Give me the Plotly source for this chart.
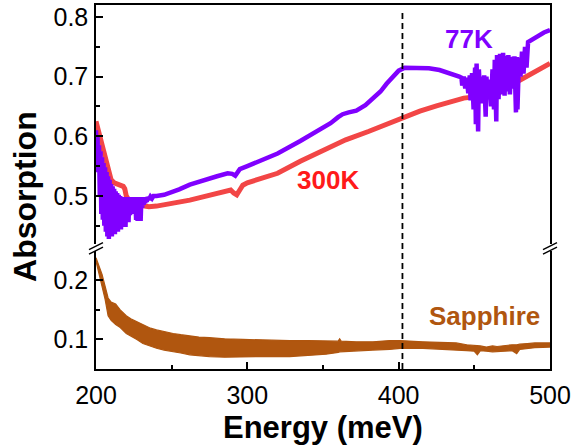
import plotly.graph_objects as go

# ---------------- data ----------------
# 300 K absorption
e_300 = [200, 201, 202, 203, 204, 205, 206, 207, 208, 209, 210, 212, 214, 216, 218, 219, 220, 222,
         225, 230, 235, 240, 245, 250, 255, 262, 270, 280, 286, 289, 291, 293, 295, 297, 300, 310,
         320, 335, 345, 355, 365, 380, 395, 404, 414, 425, 435, 443, 450, 460, 470, 480, 490, 500]
a_300 = [0.625, 0.615, 0.600, 0.590, 0.580, 0.572, 0.563, 0.553, 0.545, 0.535, 0.527, 0.522, 0.520,
         0.518, 0.516, 0.512, 0.500, 0.492, 0.488, 0.484, 0.482, 0.483, 0.485, 0.487, 0.489, 0.493,
         0.498, 0.505, 0.509, 0.510, 0.505, 0.502, 0.510, 0.518, 0.522, 0.530, 0.538, 0.558, 0.570,
         0.583, 0.594, 0.608, 0.624, 0.633, 0.642, 0.651, 0.658, 0.664, 0.666, 0.672, 0.680, 0.694,
         0.708, 0.722]

# 77 K absorption
e_77 = [200.0, 200.5, 201.0, 201.5, 202.0, 202.5, 203.0, 203.5, 204.0, 204.5, 205.0, 205.5, 206.0,
        206.5, 207.0, 207.5, 208.0, 208.5, 209.0, 209.5, 210.0, 210.5, 211.0, 211.5, 212.0, 212.5,
        213.0, 213.5, 214.0, 214.5, 215.0, 215.5, 216.0, 216.5, 217.0, 217.5, 218.0, 218.5, 219.0,
        219.5, 220.0, 220.5, 221.0, 221.5, 222.0, 222.5, 223.0, 223.5, 224.0, 224.5, 225.0, 225.5,
        226.0, 226.5, 227.0, 227.5, 228.0, 228.5, 229.0, 229.5, 230.0, 230.5, 231.0, 231.5, 232.0,
        232.5, 233.0, 233.5, 234.0, 235.0, 236.0, 237.0, 238.0,
        240, 245, 249, 255, 262, 270, 280, 287, 290, 292, 293, 295, 300, 310, 320, 335, 345, 355,
        360, 363, 367, 372, 378, 383, 388, 392, 396, 400, 404, 410, 420, 427, 435, 440,
        441.5, 442.0, 443.0, 444.0, 445.0, 446.0, 447.0, 447.5, 448.5, 449.5, 450.5, 451.0, 451.5,
        452.5, 453.0, 454.0, 455.0, 455.5, 456.5, 457.5, 458.0, 459.0, 460.0, 461.0, 462.0, 463.0,
        463.5, 464.5, 465.0, 466.0, 467.0, 468.0, 469.0, 470.0, 470.5, 471.5, 472.5, 473.5, 474.5,
        475.5, 476.5, 477.5, 478.0, 478.5, 479.5, 480.5, 481.5, 482.5, 483.5, 484.5, 485.5,
        488, 490, 493, 496, 500]
a_77 = [0.610, 0.560, 0.600, 0.540, 0.585, 0.500, 0.575, 0.470, 0.565, 0.460, 0.555, 0.450, 0.548,
        0.440, 0.540, 0.432, 0.533, 0.428, 0.527, 0.445, 0.520, 0.432, 0.516, 0.440, 0.512, 0.436,
        0.508, 0.445, 0.505, 0.440, 0.502, 0.448, 0.500, 0.444, 0.498, 0.452, 0.497, 0.455, 0.497,
        0.448, 0.498, 0.460, 0.497, 0.456, 0.498, 0.468, 0.497, 0.475, 0.498, 0.482, 0.497, 0.470,
        0.498, 0.460, 0.497, 0.458, 0.498, 0.462, 0.497, 0.458, 0.498, 0.480, 0.497, 0.485, 0.498,
        0.488, 0.497, 0.490, 0.498, 0.494, 0.499, 0.496, 0.500,
        0.500, 0.502, 0.505, 0.511, 0.519, 0.526, 0.533, 0.538, 0.537, 0.534, 0.537, 0.545, 0.550,
        0.560, 0.571, 0.592, 0.606, 0.622, 0.632, 0.637, 0.640, 0.643, 0.652, 0.664, 0.675, 0.688,
        0.700, 0.710, 0.715, 0.715, 0.714, 0.711, 0.705, 0.700,
        0.698, 0.685, 0.700, 0.680, 0.698, 0.672, 0.702, 0.660, 0.706, 0.645, 0.715, 0.620, 0.722,
        0.608, 0.712, 0.660, 0.700, 0.655, 0.702, 0.633, 0.700, 0.662, 0.695, 0.650, 0.712, 0.645,
        0.728, 0.625, 0.736, 0.662, 0.738, 0.670, 0.740, 0.668, 0.735, 0.675, 0.736, 0.670, 0.733,
        0.680, 0.734, 0.640, 0.733, 0.645, 0.732, 0.700, 0.742, 0.705, 0.750, 0.715, 0.758,
        0.762, 0.765, 0.770, 0.774, 0.778]

# Sapphire substrate (upper / lower envelope of the fringe band)
e_sap = [200, 202, 204, 206, 208, 210, 213, 216, 220, 223, 227, 231, 236, 240, 245, 251, 256, 262,
         268, 275, 285, 297, 310, 328, 340, 352, 360, 361, 362, 372, 383, 394, 401, 416, 430, 438,
         445, 450, 452, 454, 458, 462, 465, 470, 475, 478, 480, 485, 490, 500]
sap_hi = [0.238, 0.225, 0.210, 0.190, 0.170, 0.163, 0.160, 0.150, 0.140, 0.135, 0.130, 0.124, 0.119,
          0.116, 0.113, 0.110, 0.108, 0.106, 0.104, 0.103, 0.101, 0.100, 0.099, 0.098, 0.098, 0.098,
          0.097, 0.101, 0.097, 0.096, 0.096, 0.098, 0.098, 0.096, 0.095, 0.094, 0.091, 0.090, 0.090,
          0.089, 0.087, 0.089, 0.088, 0.090, 0.091, 0.091, 0.092, 0.093, 0.094, 0.094]
sap_lo = [0.232, 0.212, 0.190, 0.168, 0.140, 0.132, 0.125, 0.120, 0.110, 0.106, 0.100, 0.093, 0.089,
          0.085, 0.082, 0.079, 0.077, 0.074, 0.072, 0.071, 0.070, 0.070, 0.071, 0.071, 0.073, 0.075,
          0.078, 0.079, 0.079, 0.081, 0.082, 0.083, 0.085, 0.085, 0.084, 0.082, 0.081, 0.080, 0.074,
          0.081, 0.080, 0.079, 0.079, 0.080, 0.081, 0.076, 0.083, 0.085, 0.086, 0.087]

marker_energy = 402.5

x_ticks = [200, 300, 400, 500]
top_ticks = [0.5, 0.6, 0.7, 0.8]
bottom_ticks = [0.1, 0.2]

# ---------------- styling ----------------
C77 = "#8000FF"
C300_LINE = "#F24646"
C300_TEXT = "#FF1A1A"
CSAP = "#B0560F"
FONT = "Liberation Sans, Arial, sans-serif"

fig = go.Figure()

fig.add_trace(go.Scatter(x=e_300, y=a_300, mode="lines", xaxis="x2", yaxis="y2",
                         line=dict(color=C300_LINE, width=5), showlegend=False))
fig.add_trace(go.Scatter(x=e_77, y=a_77, mode="lines", xaxis="x2", yaxis="y2",
                         line=dict(color=C77, width=4.5), showlegend=False))
fig.add_trace(go.Scatter(x=e_sap + e_sap[::-1], y=sap_hi + sap_lo[::-1], mode="lines",
                         fill="toself", fillcolor=CSAP, xaxis="x", yaxis="y",
                         line=dict(color=CSAP, width=1.2), showlegend=False))

# geometry (pixels) -> domains
W, H = 574, 448
L, R, T, B = 96, 24, 3, 79
ph = H - T - B
bottom_dom = [0, (369 - 250) / ph]
top_dom = [(369 - 243) / ph, 1]

tickfont = dict(family=FONT, size=25, color="black")
common_y = dict(showline=True, linecolor="black", linewidth=1.5, mirror=True,
                ticks="inside", ticklen=7, tickwidth=1.5, tickcolor="black",
                showgrid=False, zeroline=False, tickfont=tickfont, ticklabelstandoff=1)

fig.update_layout(
    width=W, height=H,
    margin=dict(l=L, r=R, t=T, b=B),
    plot_bgcolor="white", paper_bgcolor="white",
    xaxis=dict(range=[200, 500], domain=[0, 1], anchor="y", showline=True, linecolor="black",
               linewidth=1.5, ticks="inside", ticklen=7, tickwidth=1.5, tickcolor="black",
               tickvals=x_ticks, showgrid=False, zeroline=False, tickfont=tickfont,
               ticklabelstandoff=3,
               minor=dict(ticks="inside", ticklen=4, tickwidth=1.5, tickcolor="black",
                          dtick=50, showgrid=False)),
    xaxis2=dict(range=[200, 500], domain=[0, 1], anchor="y2", matches="x", side="top",
                showline=True, linecolor="black", linewidth=1.5, ticks="",
                showticklabels=False, showgrid=False, zeroline=False),
    yaxis=dict(range=[0.05, 0.25], domain=bottom_dom, anchor="x", tickvals=bottom_ticks,
               minor=dict(ticks="inside", ticklen=4, tickwidth=1.5, tickcolor="black",
                          dtick=0.05, tick0=0.05, showgrid=False),
               **common_y),
    yaxis2=dict(range=[0.42, 0.82], domain=top_dom, anchor="x2", tickvals=top_ticks,
                minor=dict(ticks="inside", ticklen=4, tickwidth=1.5, tickcolor="black",
                           dtick=0.05, tick0=0.45, showgrid=False),
                **common_y),
)


def px2paper(px, py):
    return (px - L) / (W - L - R), (H - B - py) / ph


shapes = []
# dashed marker line
shapes.append(dict(type="line", xref="x", yref="paper", x0=marker_energy, x1=marker_energy,
                   y0=0, y1=px2paper(0, 10)[1],
                   line=dict(color="black", width=1.8, dash="6px,4px")))
# axis break marks
for cx in (96, 550):
    for dy in (0, 4.5):
        x0, y0 = px2paper(cx - 7, 249 + dy)
        x1, y1 = px2paper(cx + 7, 242 + dy)
        shapes.append(dict(type="line", xref="paper", yref="paper", x0=x0, y0=y0, x1=x1, y1=y1,
                           line=dict(color="black", width=1.3)))
fig.update_layout(shapes=shapes)

ann = []
ax_t, ay_t = px2paper(25, 196)
ann.append(dict(text="<b>Absorption</b>", xref="paper", yref="paper", x=ax_t, y=ay_t,
                textangle=-90, showarrow=False, xanchor="center", yanchor="middle",
                font=dict(family=FONT, size=32, color="black")))
ex, ey = px2paper(323, 428)
ann.append(dict(text="<b>Energy (meV)</b>", xref="paper", yref="paper", x=ex, y=ey,
                showarrow=False, xanchor="center", yanchor="middle",
                font=dict(family=FONT, size=31, color="black")))
ann.append(dict(text="<b>77K</b>", xref="x2", yref="y2", x=446.5, y=0.763, showarrow=False,
                xanchor="center", yanchor="middle", font=dict(family=FONT, size=26, color=C77)))
ann.append(dict(text="<b>300K</b>", xref="x2", yref="y2", x=353.3, y=0.527, showarrow=False,
                xanchor="center", yanchor="middle", font=dict(family=FONT, size=26, color=C300_TEXT)))
ann.append(dict(text="<b>Sapphire</b>", xref="x", yref="y", x=456.4, y=0.139, showarrow=False,
                xanchor="center", yanchor="middle", font=dict(family=FONT, size=26, color=CSAP)))
fig.update_layout(annotations=ann)

fig.write_html("out.html")
